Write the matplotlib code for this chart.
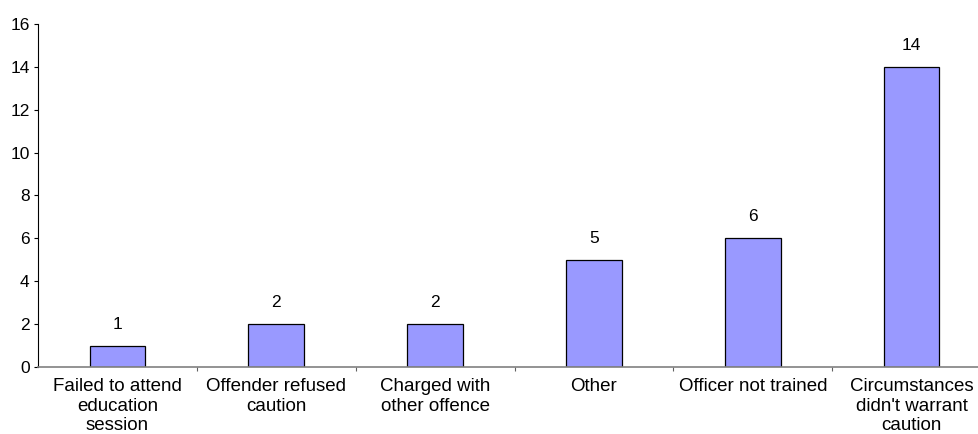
import numpy as np
import matplotlib
matplotlib.use("Agg")
import matplotlib.pyplot as plt

plt.rcParams['font.family'] = ['Liberation Sans', 'DejaVu Sans']

# Data
categories = ['Failed to attend\neducation\nsession', 'Offender refused\ncaution',
              'Charged with\nother offence', 'Other', 'Officer not trained',
              "Circumstances\ndidn't warrant\ncaution"]
counts = [1, 2, 2, 5, 6, 14]

fig = plt.figure(figsize=(9.79, 4.34), dpi=100)
# plot area runs a little past the right edge of the figure, as in the original
ax = fig.add_axes([0.0388, 0.1544, 0.9735, 0.7903])

x = np.arange(len(categories))
bars = ax.bar(x, counts, width=0.35, color='#9999FF', edgecolor='black', linewidth=0.9)

for b, v in zip(bars, counts):
    ax.annotate(str(v), (b.get_x() + b.get_width() / 2, v), xytext=(0, 10),
                textcoords='offset points', ha='center', va='bottom', fontsize=12.5)

ax.set_xlim(-0.5, len(categories) - 0.5)
ax.set_ylim(0, 16)
ax.set_yticks(range(0, 17, 2))
ax.tick_params(axis='y', labelsize=12.5, length=3, width=0.8, color='black', pad=3)

# category labels centred, ticks between categories
ax.set_xticks(x)
ax.set_xticklabels(categories, fontsize=13.5, linespacing=1.2)
ax.tick_params(axis='x', which='major', length=0, pad=8)
ax.set_xticks(np.arange(0.5, len(categories) - 0.5, 1), minor=True)
ax.tick_params(axis='x', which='minor', length=3, width=0.8, color='#606060')

for s in ['top', 'right']:
    ax.spines[s].set_visible(False)
ax.spines['left'].set_color('black')
ax.spines['left'].set_linewidth(0.8)
ax.spines['bottom'].set_color('#808080')
ax.spines['bottom'].set_linewidth(1.2)

fig.savefig('out.png', dpi=100)
